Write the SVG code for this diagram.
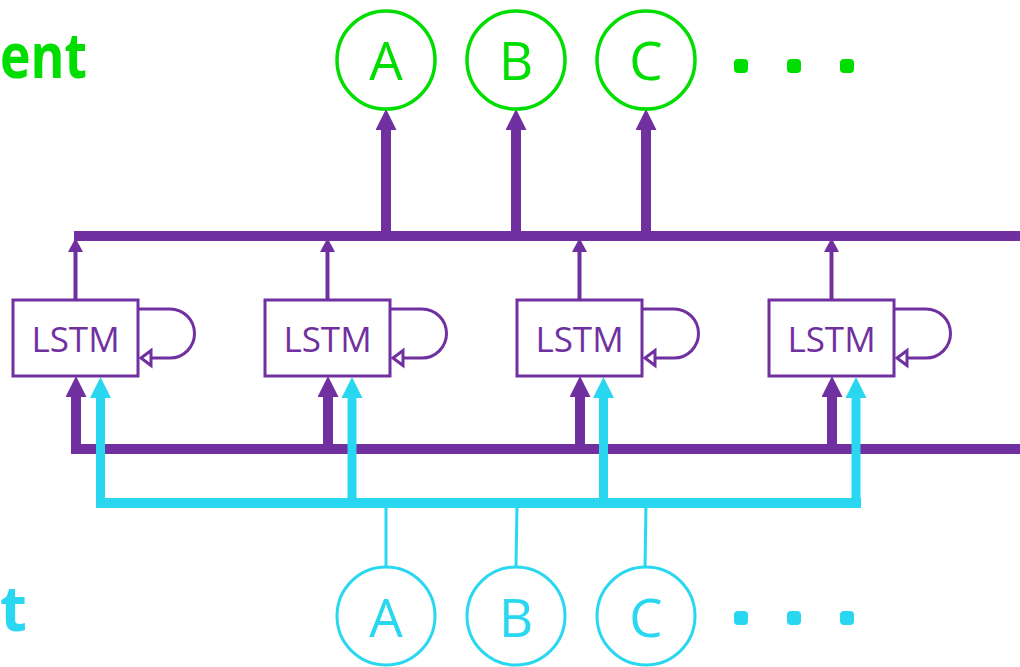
<svg xmlns="http://www.w3.org/2000/svg" width="1020" height="667" viewBox="0 0 1020 667">
<style>
.bg{fill:#ffffff}
.box{fill:#ffffff;stroke:#7030A0;stroke-width:3}
.loop{fill:none;stroke:#7030A0;stroke-width:3}
.lbl{font-family:"Open Sans","Noto Sans",sans-serif;font-size:35px;fill:#7030A0;text-anchor:middle}
.gc{fill:#ffffff;stroke:#00DD00;stroke-width:3.5}
.cc{fill:#ffffff;stroke:#2AD7F0;stroke-width:3}
.gt{font-family:"Open Sans","Noto Sans",sans-serif;font-size:53px;fill:#00DD00;text-anchor:middle}
.ct{font-family:"Open Sans","Noto Sans",sans-serif;font-size:53px;fill:#2AD7F0;text-anchor:middle}
.gd{fill:#00DD00}
.cd{fill:#2AD7F0}
.pbus{stroke:#7030A0;stroke-width:10;fill:none}
.pthin{stroke:#7030A0;stroke-width:4;fill:none}
.cbus{stroke:#2AD7F0;stroke-width:10;fill:none}
.cup{stroke:#2AD7F0;stroke-width:9;fill:none}
.cthin{stroke:#2AD7F0;stroke-width:3;fill:none}
.big{font-family:"Open Sans","Noto Sans",sans-serif;font-size:62px;font-weight:bold}
</style>
<defs>
<marker id="hThin" markerUnits="userSpaceOnUse" markerWidth="14" markerHeight="15" refX="0" refY="7.5" orient="auto"><path d="M0,0 L14,7.5 L0,15 z" fill="#7030A0"/></marker>
<marker id="hThickP" markerUnits="userSpaceOnUse" markerWidth="21" markerHeight="21" refX="0" refY="10.5" orient="auto"><path d="M0,0 L21,10.5 L0,21 z" fill="#7030A0"/></marker>
<marker id="hThickC" markerUnits="userSpaceOnUse" markerWidth="21" markerHeight="21" refX="0" refY="10.5" orient="auto"><path d="M0,0 L21,10.5 L0,21 z" fill="#2AD7F0"/></marker>
<marker id="hOpen" markerUnits="userSpaceOnUse" markerWidth="14" markerHeight="19" refX="0" refY="7.5" orient="auto" style="overflow:visible"><path d="M0,0 L10,7.5 L0,15 z" fill="#ffffff" stroke="#7030A0" stroke-width="3"/></marker>
</defs>
<rect class="bg" x="0" y="0" width="1020" height="667"/>

<g id="title-top"><text class="big" x="0" y="78" textLength="87" lengthAdjust="spacingAndGlyphs" fill="#00DD00">ent</text></g>
<g id="title-bottom"><text class="big" x="0" y="631" fill="#2AD7F0">t</text></g>

<g id="connectors">
<line class="pbus" x1="74" y1="236" x2="1020" y2="236"/>
<line class="pthin" x1="75.5" y1="300" x2="75.5" y2="252" marker-end="url(#hThin)"/>
<line class="pthin" x1="327.5" y1="300" x2="327.5" y2="252" marker-end="url(#hThin)"/>
<line class="pthin" x1="579.5" y1="300" x2="579.5" y2="252" marker-end="url(#hThin)"/>
<line class="pthin" x1="831.5" y1="300" x2="831.5" y2="252" marker-end="url(#hThin)"/>
<line class="pbus" x1="386" y1="240" x2="386" y2="130" marker-end="url(#hThickP)"/>
<line class="pbus" x1="516" y1="240" x2="516" y2="130" marker-end="url(#hThickP)"/>
<line class="pbus" x1="646" y1="240" x2="646" y2="130" marker-end="url(#hThickP)"/>
<line class="pbus" x1="71" y1="449" x2="1020" y2="449"/>
<line class="pbus" x1="76" y1="454" x2="76" y2="397" marker-end="url(#hThickP)"/>
<line class="pbus" x1="328" y1="454" x2="328" y2="397" marker-end="url(#hThickP)"/>
<line class="pbus" x1="580" y1="454" x2="580" y2="397" marker-end="url(#hThickP)"/>
<line class="pbus" x1="832" y1="454" x2="832" y2="397" marker-end="url(#hThickP)"/>
<line class="cbus" x1="96" y1="503" x2="861" y2="503"/>
<line class="cup" x1="100.5" y1="508" x2="100.5" y2="398" marker-end="url(#hThickC)"/>
<line class="cup" x1="352" y1="508" x2="352" y2="398" marker-end="url(#hThickC)"/>
<line class="cup" x1="603.5" y1="508" x2="603.5" y2="398" marker-end="url(#hThickC)"/>
<line class="cup" x1="856" y1="508" x2="856" y2="398" marker-end="url(#hThickC)"/>
<line class="cthin" x1="386" y1="503" x2="386" y2="568"/>
<line class="cthin" x1="517" y1="503" x2="516" y2="568"/>
<line class="cthin" x1="646" y1="503" x2="645" y2="568"/>
</g>

<g id="lstm1" transform="translate(13,300)"><rect class="box" x="0" y="0" width="125" height="76"/><text class="lbl" x="62.5" y="52">LSTM</text><path class="loop" d="M125,9 H157 A24.5,24.5 0 0 1 157,58 H138" marker-end="url(#hOpen)"/></g>
<g id="lstm2" transform="translate(265,300)"><rect class="box" x="0" y="0" width="125" height="76"/><text class="lbl" x="62.5" y="52">LSTM</text><path class="loop" d="M125,9 H157 A24.5,24.5 0 0 1 157,58 H138" marker-end="url(#hOpen)"/></g>
<g id="lstm3" transform="translate(517,300)"><rect class="box" x="0" y="0" width="125" height="76"/><text class="lbl" x="62.5" y="52">LSTM</text><path class="loop" d="M125,9 H157 A24.5,24.5 0 0 1 157,58 H138" marker-end="url(#hOpen)"/></g>
<g id="lstm4" transform="translate(769,300)"><rect class="box" x="0" y="0" width="125" height="76"/><text class="lbl" x="62.5" y="52">LSTM</text><path class="loop" d="M125,9 H157 A24.5,24.5 0 0 1 157,58 H138" marker-end="url(#hOpen)"/></g>

<g id="outA"><circle class="gc" cx="386" cy="60" r="49"/><text class="gt" x="386" y="80">A</text></g>
<g id="outB"><circle class="gc" cx="516" cy="60" r="49"/><text class="gt" x="516" y="80">B</text></g>
<g id="outC"><circle class="gc" cx="646" cy="60" r="49"/><text class="gt" x="646" y="80">C</text></g>
<g id="outDots"><rect class="gd" x="734" y="59" width="14" height="14" rx="4"/><rect class="gd" x="787" y="59" width="14" height="14" rx="4"/><rect class="gd" x="840" y="59" width="14" height="14" rx="4"/></g>

<g id="inA"><circle class="cc" cx="386" cy="616" r="49"/><text class="ct" x="386" y="637">A</text></g>
<g id="inB"><circle class="cc" cx="516" cy="616" r="49"/><text class="ct" x="516" y="637">B</text></g>
<g id="inC"><circle class="cc" cx="646" cy="616" r="49"/><text class="ct" x="646" y="637">C</text></g>
<g id="inDots"><rect class="cd" x="734" y="611" width="14" height="14" rx="4"/><rect class="cd" x="787" y="611" width="14" height="14" rx="4"/><rect class="cd" x="840" y="611" width="14" height="14" rx="4"/></g>
</svg>
